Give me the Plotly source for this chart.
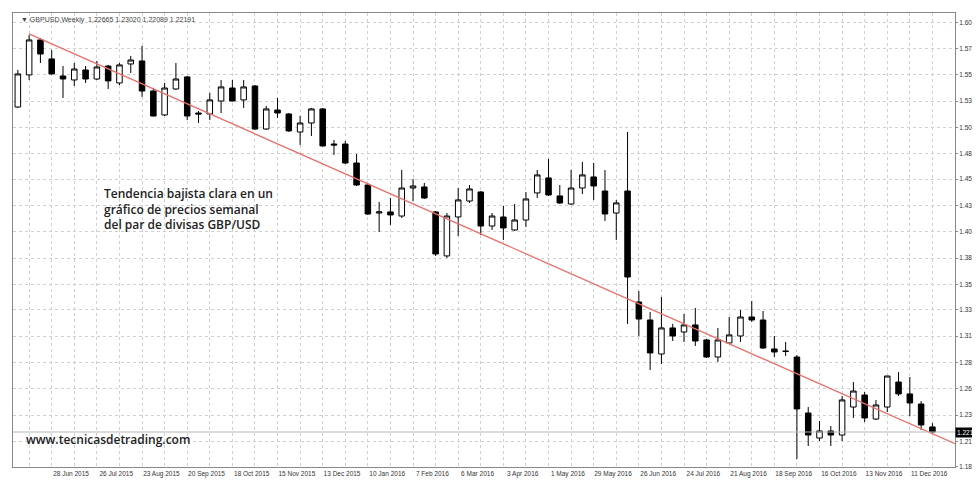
import pandas as pd
import plotly.graph_objects as go

# Weekly GBP/USD candles (31 May 2015 .. 25 Dec 2016)
start_week = "2015-05-31"
opens = [1.5286, 1.5248, 1.5547, 1.5873, 1.5696, 1.5537, 1.5500, 1.5593, 1.5509, 1.5630,
         1.5472, 1.5649, 1.5677, 1.5397, 1.5174, 1.5416, 1.5528, 1.5192, 1.5183, 1.5304,
         1.5425, 1.5314, 1.5444, 1.5043, 1.5220, 1.5183, 1.5015, 1.5099, 1.5230, 1.4903,
         1.4903, 1.4726, 1.4521, 1.4260, 1.4270, 1.4232, 1.4493, 1.4503, 1.4270, 1.3860,
         1.4223, 1.4372, 1.4456, 1.4139, 1.4223, 1.4102, 1.4195, 1.4447, 1.4587, 1.4419,
         1.4344, 1.4493, 1.4596, 1.4465, 1.4260, 1.4465, 1.3431, 1.3263, 1.2946, 1.3189,
         1.3151, 1.3217, 1.3077, 1.2918, 1.3049, 1.3114, 1.3291, 1.3263, 1.2993, 1.2974,
         1.2918, 1.2396, 1.2163, 1.2229, 1.2191, 1.2452, 1.2564, 1.2340, 1.2452, 1.2685,
         1.2574, 1.2480, 1.22665]
highs = [1.5444, 1.5593, 1.5919, 1.5891, 1.5780, 1.5630, 1.5658, 1.5630, 1.5677, 1.5640,
         1.5658, 1.5724, 1.5817, 1.5425, 1.5472, 1.5658, 1.5537, 1.5211, 1.5379, 1.5500,
         1.5500, 1.5500, 1.5453, 1.5258, 1.5332, 1.5192, 1.5164, 1.5239, 1.5239, 1.4941,
         1.4931, 1.4810, 1.4540, 1.4363, 1.4400, 1.4661, 1.4577, 1.4540, 1.4279, 1.4260,
         1.4493, 1.4521, 1.4465, 1.4260, 1.4326, 1.4344, 1.4456, 1.4661, 1.4764, 1.4521,
         1.4661, 1.4736, 1.4726, 1.4661, 1.4382, 1.5015, 1.3533, 1.3338, 1.3478, 1.3226,
         1.3319, 1.3375, 1.3086, 1.3189, 1.3291, 1.3356, 1.3440, 1.3347, 1.3114, 1.3058,
         1.2937, 1.2452, 1.2322, 1.2275, 1.2555, 1.2685, 1.2592, 1.2518, 1.2741, 1.2778,
         1.2732, 1.2508, 1.23020]
lows = [1.5174, 1.5239, 1.5500, 1.5658, 1.5550, 1.5332, 1.5444, 1.5472, 1.5500, 1.5416,
        1.5453, 1.5565, 1.5342, 1.5160, 1.5164, 1.5407, 1.5127, 1.5099, 1.5127, 1.5192,
        1.5300, 1.5239, 1.5034, 1.5034, 1.5146, 1.5015, 1.4894, 1.4978, 1.4880, 1.4801,
        1.4717, 1.4512, 1.4242, 1.4083, 1.4149, 1.4214, 1.4372, 1.4390, 1.3860, 1.3841,
        1.4046, 1.4354, 1.4055, 1.4102, 1.4009, 1.4093, 1.4130, 1.4400, 1.4419, 1.4344,
        1.4335, 1.4437, 1.4382, 1.4186, 1.4009, 1.3226, 1.3114, 1.2797, 1.2853, 1.3067,
        1.3058, 1.3021, 1.2909, 1.2872, 1.3040, 1.3058, 1.3245, 1.2993, 1.2918, 1.2928,
        1.1968, 1.2089, 1.2135, 1.2089, 1.2135, 1.2350, 1.2312, 1.2331, 1.2406, 1.2555,
        1.2368, 1.2238, 1.22089]
closes = [1.5280, 1.5556, 1.5873, 1.5742, 1.5556, 1.5509, 1.5602, 1.5509, 1.5621, 1.5491,
          1.5640, 1.5686, 1.5397, 1.5164, 1.5425, 1.5509, 1.5164, 1.5183, 1.5314, 1.5435,
          1.5304, 1.5435, 1.5043, 1.5230, 1.5192, 1.5025, 1.5099, 1.5230, 1.4885, 1.4894,
          1.4726, 1.4521, 1.4251, 1.4270, 1.4242, 1.4493, 1.4512, 1.4400, 1.3878, 1.4232,
          1.4382, 1.4484, 1.4139, 1.4232, 1.4121, 1.4195, 1.4391, 1.4615, 1.4428, 1.4354,
          1.4493, 1.4615, 1.4512, 1.4251, 1.4354, 1.3664, 1.3272, 1.2956, 1.3189, 1.3114,
          1.3217, 1.3067, 1.2918, 1.3077, 1.3124, 1.3291, 1.3263, 1.3002, 1.2965, 1.2970,
          1.2434, 1.2191, 1.2229, 1.2191, 1.2518, 1.2601, 1.2350, 1.2471, 1.2741, 1.2574,
          1.2490, 1.2285, 1.22191]

# y axis labels as shown by the terminal
ytick_vals = [1.60310, 1.57930, 1.55480, 1.53030, 1.50580, 1.48130, 1.45750, 1.43300, 1.40850,
              1.38400, 1.35950, 1.33570, 1.31120, 1.28670, 1.26220, 1.23770, 1.21320, 1.18940]

# trend line end points
trend_dates = ["2015-06-14", "2017-01-08"]
trend_prices = [1.5929, 1.2110]
last_price = 1.22191

weeks = pd.date_range(start_week, periods=len(opens), freq="7D")
tick_dates = pd.date_range(start_week, periods=21, freq="28D")

fig = go.Figure()
fig.add_trace(go.Candlestick(
    x=weeks, open=opens, high=highs, low=lows, close=closes,
    increasing=dict(fillcolor="white", line=dict(color="black", width=1)),
    decreasing=dict(fillcolor="black", line=dict(color="black", width=1)),
    whiskerwidth=0, showlegend=False, hoverinfo="skip"))

fig.add_trace(go.Scatter(x=trend_dates, y=trend_prices, mode="lines",
                         line=dict(color="#e8706a", width=1.3), showlegend=False))

fig.add_hline(y=last_price, line=dict(color="#b8b8b8", width=1))

fig.update_layout(
    width=980, height=482,
    margin=dict(l=5, r=33, t=5, b=23),
    paper_bgcolor="white", plot_bgcolor="white",
    font=dict(family="Liberation Sans", size=6.5, color="#333"),
    xaxis=dict(
        type="date", rangeslider=dict(visible=False),
        range=[weeks[0] + pd.Timedelta(days=4), trend_dates[1]],
        tickvals=tick_dates + pd.Timedelta(days=12),
        ticktext=[d.strftime("%-d %b %Y") for d in tick_dates],
        showgrid=False, ticks="", showline=True, linecolor="#888", mirror=True,
        minor=dict(dtick=14 * 86400000, tick0="2015-06-14", showgrid=True,
                   gridcolor="#d0d0d0", griddash="dot", gridwidth=1)),
    yaxis=dict(
        side="right", range=[1.1893, 1.6124],
        tickvals=ytick_vals, ticktext=["%.5f" % v for v in ytick_vals],
        showgrid=True, gridcolor="#d0d0d0", griddash="dot", zeroline=False,
        ticks="outside", ticklen=2, tickcolor="#888",
        showline=True, linecolor="#888", mirror=True),
)

fig.add_annotation(xref="paper", yref="paper", x=0.006, y=0.998, xanchor="left", yanchor="top",
                   text="▼ GBPUSD,Weekly  1.22665 1.23020 1.22089 1.22191",
                   showarrow=False, font=dict(size=7, color="#444"))
fig.add_annotation(xref="paper", yref="y", x=1.0, y=last_price, xanchor="left",
                   text="1.22191", showarrow=False, bgcolor="black",
                   font=dict(size=6.5, color="white"), borderpad=1)
fig.add_annotation(xref="paper", yref="paper", x=0.094, y=0.625, xanchor="left", yanchor="top",
                   align="left", showarrow=False,
                   text="Tendencia bajista clara en un<br>gráfico de precios semanal<br>del par de divisas GBP/USD",
                   font=dict(family="Open Sans", size=12, color="#222", weight=600))
fig.add_annotation(xref="paper", yref="paper", x=0.012, y=0.06, xanchor="left", yanchor="middle",
                   text="www.tecnicasdetrading.com", showarrow=False,
                   font=dict(family="Open Sans", size=12, color="#222", weight=600))

fig.write_html("out.html")
